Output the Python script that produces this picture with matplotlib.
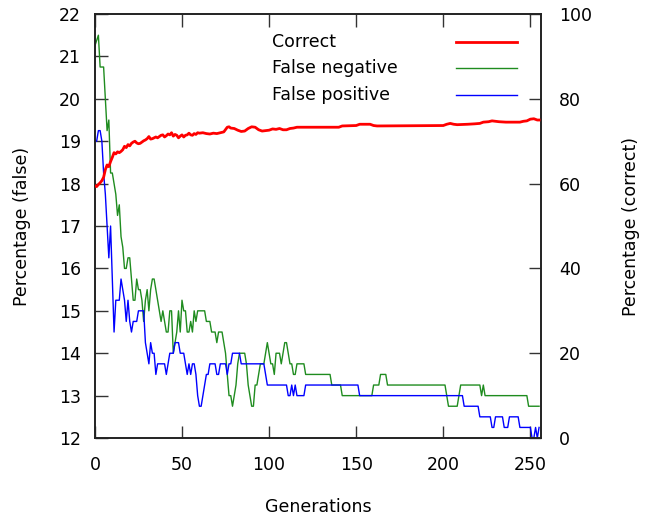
import matplotlib
matplotlib.use("Agg")
import matplotlib.pyplot as plt

# generations / values (flat runs given by their ends)
correct_gen = [0, 1, 2, 3, 4, 5, 6, 7, 8, 9, 10, 11, 12, 13, 14, 15, 16, 17, 18, 19,
               20, 21, 22, 23, 24, 25, 26, 27, 28, 29, 30, 31, 32, 33, 34, 35, 36, 37, 38, 39,
               40, 41, 42, 43, 44, 45, 46, 47, 48, 49, 50, 51, 52, 53, 54, 55, 56, 57, 58, 59,
               60, 62, 64, 66, 68, 70, 72, 74, 76, 77, 78, 80, 82, 84, 86, 88, 90, 92, 94, 96,
               98, 100, 102, 104, 106, 108, 110, 112, 114, 116, 140, 142, 150, 152, 158, 160, 162, 200, 202, 204,
               206, 208, 214, 218, 221, 223, 226, 228, 232, 236, 244, 246, 248, 250, 252, 254, 255]
correct_val = [59.5, 59.3, 59.8, 60.2, 60.7, 61.5, 63.3, 64.4, 64.0, 65.2, 66.2, 67.3, 67.0, 67.5, 67.3, 67.6, 68.0, 68.8, 68.5, 69.2,
               68.9, 69.5, 69.8, 70.0, 69.6, 69.4, 69.5, 69.8, 70.1, 70.3, 70.6, 71.1, 70.5, 70.6, 70.8, 71.0, 70.8, 71.1, 71.4, 71.5,
               71.0, 71.3, 71.7, 71.5, 72.0, 71.2, 71.6, 71.4, 70.8, 71.2, 71.5, 71.0, 71.4, 71.5, 71.9, 71.5, 71.4, 71.8, 71.6, 72.0,
               71.9, 72.0, 71.8, 71.7, 71.9, 71.8, 72.0, 72.2, 73.3, 73.4, 73.1, 73.0, 72.6, 72.3, 72.4, 73.0, 73.4, 73.3, 72.7, 72.4,
               72.5, 72.6, 72.9, 72.8, 73.0, 72.7, 72.7, 73.0, 73.1, 73.3, 73.3, 73.6, 73.7, 74.0, 74.0, 73.7, 73.6, 73.7, 74.0, 74.2,
               74.0, 73.9, 74.0, 74.1, 74.2, 74.5, 74.6, 74.8, 74.6, 74.5, 74.5, 74.7, 74.8, 75.2, 75.3, 75.0, 75.0]

fneg_gen = [0, 2, 3, 5, 7, 8, 9, 10, 11, 12, 13, 14, 15, 16, 17, 18, 19, 20, 21, 22,
            23, 24, 25, 26, 27, 28, 29, 30, 31, 32, 33, 34, 35, 36, 37, 38, 39, 40, 41, 42,
            43, 44, 45, 46, 47, 48, 49, 50, 51, 52, 53, 54, 55, 56, 57, 58, 59, 63, 64, 66,
            67, 69, 70, 71, 73, 74, 75, 76, 77, 78, 79, 80, 81, 82, 83, 86, 87, 88, 89, 90,
            91, 92, 93, 94, 95, 97, 98, 99, 100, 101, 102, 103, 104, 106, 107, 108, 109, 110, 111, 112,
            113, 114, 115, 116, 120, 121, 135, 136, 141, 142, 159, 160, 163, 164, 167, 168, 201, 202, 203, 208,
            209, 210, 221, 222, 223, 224, 248, 249, 255]
fneg_val = [21.25, 21.5, 20.75, 20.75, 19.25, 19.5, 18.25, 18.25, 18.0, 17.75, 17.25, 17.5, 16.75, 16.5, 16.0, 16.0, 16.25, 16.25, 15.75, 15.25,
            15.25, 15.75, 15.5, 15.5, 15.25, 14.75, 15.25, 15.5, 15.0, 15.5, 15.75, 15.75, 15.5, 15.25, 15.0, 14.75, 15.0, 14.75, 14.5, 14.5,
            15.0, 15.0, 14.0, 14.25, 14.5, 15.0, 14.5, 15.25, 15.0, 15.0, 14.5, 14.5, 14.75, 14.5, 15.0, 14.75, 15.0, 15.0, 14.75, 14.75,
            14.5, 14.5, 14.25, 14.5, 14.5, 14.25, 14.0, 13.5, 13.0, 13.0, 12.75, 13.0, 13.25, 13.75, 14.0, 14.0, 13.75, 13.25, 13.0, 12.75,
            12.75, 13.25, 13.25, 13.5, 13.75, 13.75, 14.0, 14.25, 14.0, 13.75, 13.75, 13.5, 14.0, 14.0, 13.75, 14.0, 14.25, 14.25, 14.0, 13.75,
            13.75, 13.5, 13.5, 13.75, 13.75, 13.5, 13.5, 13.25, 13.25, 13.0, 13.0, 13.25, 13.25, 13.5, 13.5, 13.25, 13.25, 13.0, 12.75, 12.75,
            13.0, 13.25, 13.25, 13.0, 13.25, 13.0, 13.0, 12.75, 12.75]

fpos_gen = [0, 1, 2, 3, 4, 5, 6, 7, 8, 9, 10, 11, 12, 14, 15, 16, 17, 18, 19, 20,
            21, 22, 24, 25, 28, 29, 30, 31, 32, 33, 34, 35, 36, 40, 41, 42, 43, 45, 46, 48,
            49, 51, 52, 53, 54, 55, 56, 57, 58, 59, 60, 61, 62, 63, 64, 65, 66, 69, 70, 71,
            72, 75, 76, 77, 78, 79, 83, 84, 97, 98, 99, 110, 111, 112, 113, 114, 115, 116, 120, 121,
            151, 152, 211, 212, 220, 221, 227, 228, 229, 230, 234, 235, 237, 238, 243, 244, 249, 250, 251, 252,
            253, 254, 255]
fpos_val = [19.0, 19.0, 19.25, 19.25, 19.0, 18.25, 17.75, 17.0, 16.25, 17.0, 15.75, 14.5, 15.25, 15.25, 15.75, 15.5, 15.25, 14.75, 15.25, 14.75,
            14.5, 14.75, 14.75, 15.0, 15.0, 14.25, 14.0, 13.75, 14.25, 14.0, 14.0, 13.5, 13.75, 13.75, 13.5, 13.75, 14.0, 14.0, 14.25, 14.25,
            14.0, 14.0, 13.75, 13.5, 13.75, 13.5, 13.75, 13.75, 13.5, 13.0, 12.75, 12.75, 13.0, 13.25, 13.5, 13.5, 13.75, 13.75, 13.5, 13.5,
            13.75, 13.75, 13.5, 13.75, 13.75, 14.0, 14.0, 13.75, 13.75, 13.5, 13.25, 13.25, 13.0, 13.0, 13.25, 13.0, 13.25, 13.0, 13.0, 13.25,
            13.25, 13.0, 13.0, 12.75, 12.75, 12.5, 12.5, 12.25, 12.25, 12.5, 12.5, 12.25, 12.25, 12.5, 12.5, 12.25, 12.25, 12.25, 12.0, 12.0,
            12.25, 12.0, 12.25]

labels = ["Correct", "False negative", "False positive"]
colors = ["#ff0000", "#1f8c1f", "#0000ff"]
false_ticks = [12, 13, 14, 15, 16, 17, 18, 19, 20, 21, 22]
correct_ticks = [0, 20, 40, 60, 80, 100]
gen_ticks = [0, 50, 100, 150, 200, 250]

plt.rcParams['font.family'] = ['DejaVu Sans']
plt.rcParams['font.size'] = 12.5

fig = plt.figure(figsize=(6.5, 5.19), dpi=100)
ax = fig.add_axes([0.146, 0.156, 0.686, 0.817])
ax2 = ax.twinx()

ax2.plot(correct_gen, correct_val, color=colors[0], lw=2, zorder=3)
ax.plot(fneg_gen, fneg_val, color=colors[1], lw=1)
ax.plot(fpos_gen, fpos_val, color=colors[2], lw=1)

ax.set_xlim(0, 256)
ax.set_ylim(12, 22)
ax2.set_ylim(0, 100)
ax.set_xticks(gen_ticks)
ax.set_yticks(false_ticks)
ax2.set_yticks(correct_ticks)

ax.tick_params(axis='x', direction='in', length=9, width=1, color='#333333',
               top=True, pad=13)
ax.tick_params(axis='y', direction='in', length=9, width=1, color='#333333',
               right=False, pad=10)
ax2.tick_params(axis='y', direction='in', length=9, width=1, color='#333333', pad=13)
for a in (ax, ax2):
    for s in a.spines.values():
        s.set_color('#222222')
        s.set_linewidth(1.2)

ax.set_xlabel("Generations", labelpad=17)
ax.set_ylabel("Percentage (false)", labelpad=20)
ax2.set_ylabel("Percentage (correct)", labelpad=22)

# legend in gnuplot layout: text left, sample right
rows = [0.934, 0.873, 0.809]
for lab, col, yy, w in zip(labels, colors, rows, [2, 1, 1]):
    ax.text(0.397, yy, lab, transform=ax.transAxes, va='center', ha='left')
    ax.plot([0.809, 0.946], [yy, yy], transform=ax.transAxes, color=col, lw=w)

fig.savefig("out.png", dpi=100)
